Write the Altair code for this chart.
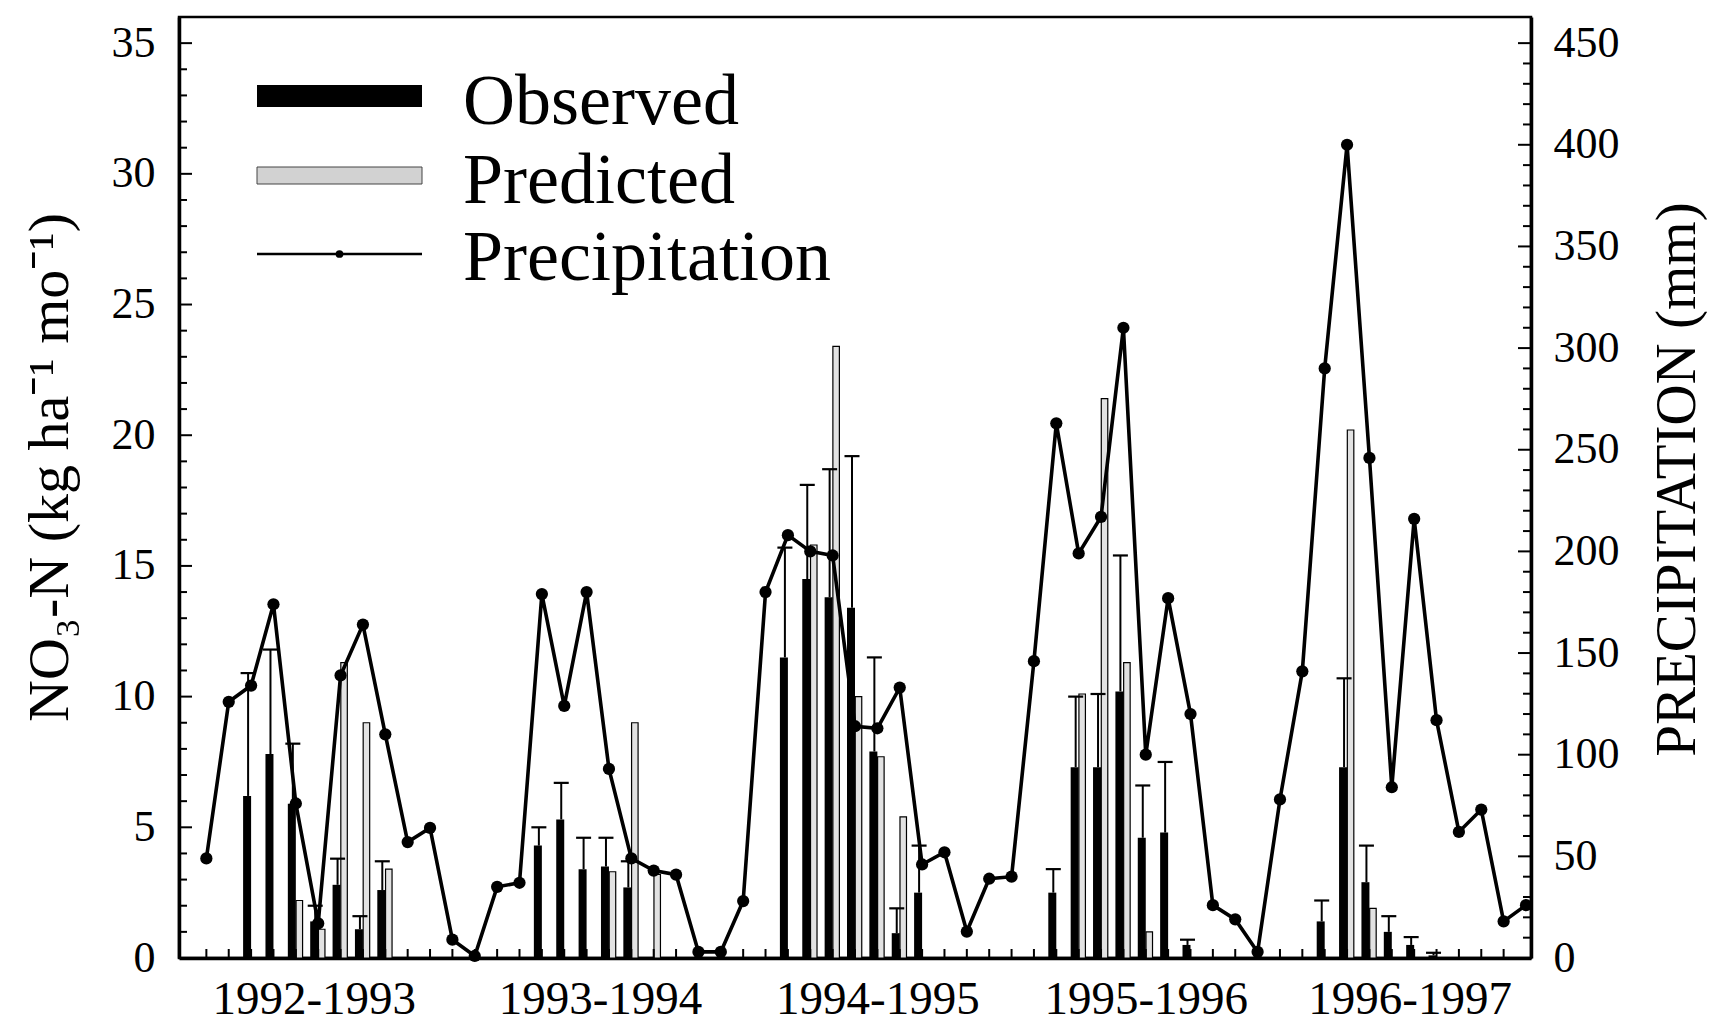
import altair as alt
import pandas as pd

FONT = "Liberation Serif"

# ---------------------------------------------------------------- data
water_years = ["1992-1993", "1993-1994", "1994-1995", "1995-1996", "1996-1997"]
year_label_pos = [5.8, 18.6, 31.0, 43.0, 54.8]

months = list(range(1, 61))
precip_mm = [49, 126, 134, 174, 76, 17, 139, 164, 110, 57, 64, 9,
             1, 35, 37, 179, 124, 180, 93, 49, 43, 41, 3, 3,
             28, 180, 208, 200, 198, 114, 113, 133, 46, 52, 13, 39,
             40, 146, 263, 199, 217, 310, 100, 177, 120, 26, 19, 3,
             78, 141, 290, 400, 246, 84, 216, 117, 62, 73, 18, 26]

obs_month = [3, 4, 5, 6, 7, 8, 9,
             16, 17, 18, 19, 20,
             27, 28, 29, 30, 31, 32, 33,
             39, 40, 41, 42, 43, 44, 45,
             51, 52, 53, 54, 55, 56]
obs_value = [6.2, 7.8, 5.9, 1.4, 2.8, 1.1, 2.6,
             4.3, 5.3, 3.4, 3.5, 2.7,
             11.5, 14.5, 13.8, 13.4, 7.9, 0.95, 2.5,
             2.5, 7.3, 7.3, 10.2, 4.6, 4.8, 0.5,
             1.4, 7.3, 2.9, 1.0, 0.5, 0.1]
obs_upper = [10.9, 11.8, 8.2, 2.0, 3.8, 1.6, 3.7,
             5.0, 6.7, 4.6, 4.6, 3.7,
             15.7, 18.1, 18.7, 19.2, 11.5, 1.9, 4.3,
             3.4, 10.0, 10.1, 15.4, 6.6, 7.5, 0.7,
             2.2, 10.7, 4.3, 1.6, 0.8, 0.2]

pred_month = [5, 6, 7, 8, 9,
              19, 20, 21,
              28, 29, 30, 31, 32,
              40, 41, 42, 43,
              52, 53]
pred_value = [2.2, 1.1, 11.3, 9.0, 3.4,
              3.3, 9.0, 3.2,
              15.8, 23.4, 10.0, 7.7, 5.4,
              10.1, 21.4, 11.3, 1.0,
              20.2, 1.9]

legend_labels = ["Observed", "Predicted", "Precipitation"]

left_tick_values = list(range(1, 36))
right_tick_values = list(range(10, 451, 10))

# ---------------------------------------------------------------- layout
PLOT_W, PLOT_H = 1352, 941
PAD = {"left": 179, "top": 17, "right": 1718 - 179 - 1352, "bottom": 1033 - 17 - 941}

precip_df = pd.DataFrame({"month": months, "precip": precip_mm})
obs_df = pd.DataFrame({"month": obs_month, "observed": obs_value, "upper": obs_upper})
pred_df = pd.DataFrame({"month": pred_month, "predicted": pred_value})

x_scale = alt.Scale(domain=[0, 60], nice=False, zero=False)
y_left = alt.Scale(domain=[0, 36], nice=False)
y_right = alt.Scale(domain=[0, 36 * 450 / 35], nice=False)

label_expr = ""
for i, name in enumerate(water_years[:-1]):
    label_expr += f"datum.value < {12 * (i + 1)} ? '{name}' : "
label_expr += f"'{water_years[-1]}'"

x_axis = alt.Axis(values=year_label_pos, labelExpr=label_expr, ticks=False,
                  domain=True, domainColor="black", domainWidth=3.5, grid=False,
                  labelFont=FONT, labelFontSize=47, labelColor="black", labelLimit=0,
                  labelPadding=18, labelFlush=False, labelOverlap=False, title=None)

left_axis = alt.Axis(orient="left", values=list(range(0, 36, 5)), ticks=False, grid=False,
                     domain=True, domainColor="black", domainWidth=3.5,
                     labelFont=FONT, labelFontSize=44, labelColor="black", labelLimit=0,
                     labelPadding=24, labelFlush=False, labelOverlap=False,
                     title="NO₃-N (kg ha⁻¹ mo⁻¹)", titleFont=FONT, titleFontSize=58,
                     titleFontWeight="normal", titleColor="black", titlePadding=32,
                     titleY=450, titleLimit=0)

right_axis = alt.Axis(orient="right", values=list(range(0, 451, 50)), ticks=False,
                      grid=False, domain=True, domainColor="black", domainWidth=3.5,
                      labelFont=FONT, labelFontSize=44, labelColor="black", labelLimit=0,
                      labelPadding=22, labelFlush=False, labelOverlap=False,
                      title="PRECIPITATION (mm)", titleFont=FONT, titleFontSize=57,
                      titleFontWeight="normal", titleColor="black", titlePadding=30,
                      titleAngle=270, titleBaseline="top", titleY=462, titleLimit=0)


def xq():
    return alt.X("month:Q", scale=x_scale, axis=x_axis)


def yl(field):
    return alt.Y(field, scale=y_left, axis=left_axis)


def yr(field):
    return alt.Y(field, scale=y_right, axis=right_axis)


# ---------------------------------------------------------------- bars
pred_bars = alt.Chart(pred_df).mark_bar(
    size=6.5, xOffset=3.5, fill="#e2e2e2", stroke="black", strokeWidth=1.2,
    opacity=1, orient="vertical"
).encode(x=xq(), y=yl("predicted:Q"))

obs_bars = alt.Chart(obs_df).mark_bar(
    size=8, xOffset=-4, color="black", opacity=1, orient="vertical"
).encode(x=xq(), y=yl("observed:Q"))

err_rule = alt.Chart(obs_df).mark_rule(
    xOffset=-3, strokeWidth=2, color="black"
).encode(x=xq(), y=yl("observed:Q"), y2="upper:Q")

err_cap = alt.Chart(obs_df).mark_tick(
    orient="horizontal", size=15, thickness=2.2, xOffset=-3, color="black", opacity=1
).encode(x=xq(), y=yl("upper:Q"))

# ---------------------------------------------------------------- inward ticks
x_ticks = alt.Chart(pd.DataFrame({"month": months[:-1]})).mark_rule(
    color="black", strokeWidth=2
).encode(x=xq(), y=alt.value(PLOT_H), y2=alt.value(PLOT_H - 9))

left_major = alt.Chart(pd.DataFrame({"v": [v for v in left_tick_values if v % 5 == 0]})).mark_rule(
    color="black", strokeWidth=2
).encode(y=yl("v:Q"), x=alt.value(0), x2=alt.value(13))

left_minor = alt.Chart(pd.DataFrame({"v": [v for v in left_tick_values if v % 5 != 0]})).mark_rule(
    color="black", strokeWidth=2
).encode(y=yl("v:Q"), x=alt.value(0), x2=alt.value(8))

right_major = alt.Chart(pd.DataFrame({"mm": [v for v in right_tick_values if v % 50 == 0]})).mark_rule(
    color="black", strokeWidth=2
).encode(y=yr("mm:Q"), x=alt.value(PLOT_W), x2=alt.value(PLOT_W - 13))

right_minor = alt.Chart(pd.DataFrame({"mm": [v for v in right_tick_values if v % 50 != 0]})).mark_rule(
    color="black", strokeWidth=2
).encode(y=yr("mm:Q"), x=alt.value(PLOT_W), x2=alt.value(PLOT_W - 8))

# ---------------------------------------------------------------- precipitation
line = alt.Chart(precip_df).mark_line(color="black", strokeWidth=3.6).encode(
    x=xq(), y=yr("precip:Q"))

points = alt.Chart(precip_df).mark_circle(size=150, color="black", opacity=1).encode(
    x=xq(), y=yr("precip:Q"))

# ---------------------------------------------------------------- legend
SW_X0, SW_X1, TXT_X = 78, 243, 284
text_baselines = [107, 186, 263]
key = pd.DataFrame({"k": [0]})

legend_layers = [
    alt.Chart(key).mark_rect(color="black").encode(
        x=alt.value(SW_X0), x2=alt.value(SW_X1), y=alt.value(68), y2=alt.value(90)),
    alt.Chart(key).mark_rect(fill="#d2d2d2", stroke="#444444", strokeWidth=1).encode(
        x=alt.value(SW_X0), x2=alt.value(SW_X1), y=alt.value(150), y2=alt.value(167)),
    alt.Chart(key).mark_rule(color="black", strokeWidth=2.6).encode(
        x=alt.value(SW_X0), x2=alt.value(SW_X1), y=alt.value(237)),
    alt.Chart(key).mark_circle(size=60, color="black", opacity=1).encode(
        x=alt.value((SW_X0 + SW_X1) / 2), y=alt.value(237)),
]
for label, base in zip(legend_labels, text_baselines):
    legend_layers.append(
        alt.Chart(pd.DataFrame({"label": [label]})).mark_text(
            font=FONT, fontSize=72, color="black", align="left", baseline="alphabetic"
        ).encode(x=alt.value(TXT_X), y=alt.value(base), text="label:N")
    )

left = alt.layer(obs_bars, pred_bars, err_rule, err_cap, x_ticks, left_major, left_minor,
                 *legend_layers)
right = alt.layer(line, points, right_major, right_minor)

chart = alt.layer(left, right).resolve_scale(y="independent").properties(
    width=PLOT_W, height=PLOT_H, padding=PAD,
    autosize=alt.AutoSizeParams(type="none"),
    background="white",
).configure_view(stroke="black", strokeWidth=2.5)

chart.save("out.html", embed_options={"renderer": "svg", "actions": False})
